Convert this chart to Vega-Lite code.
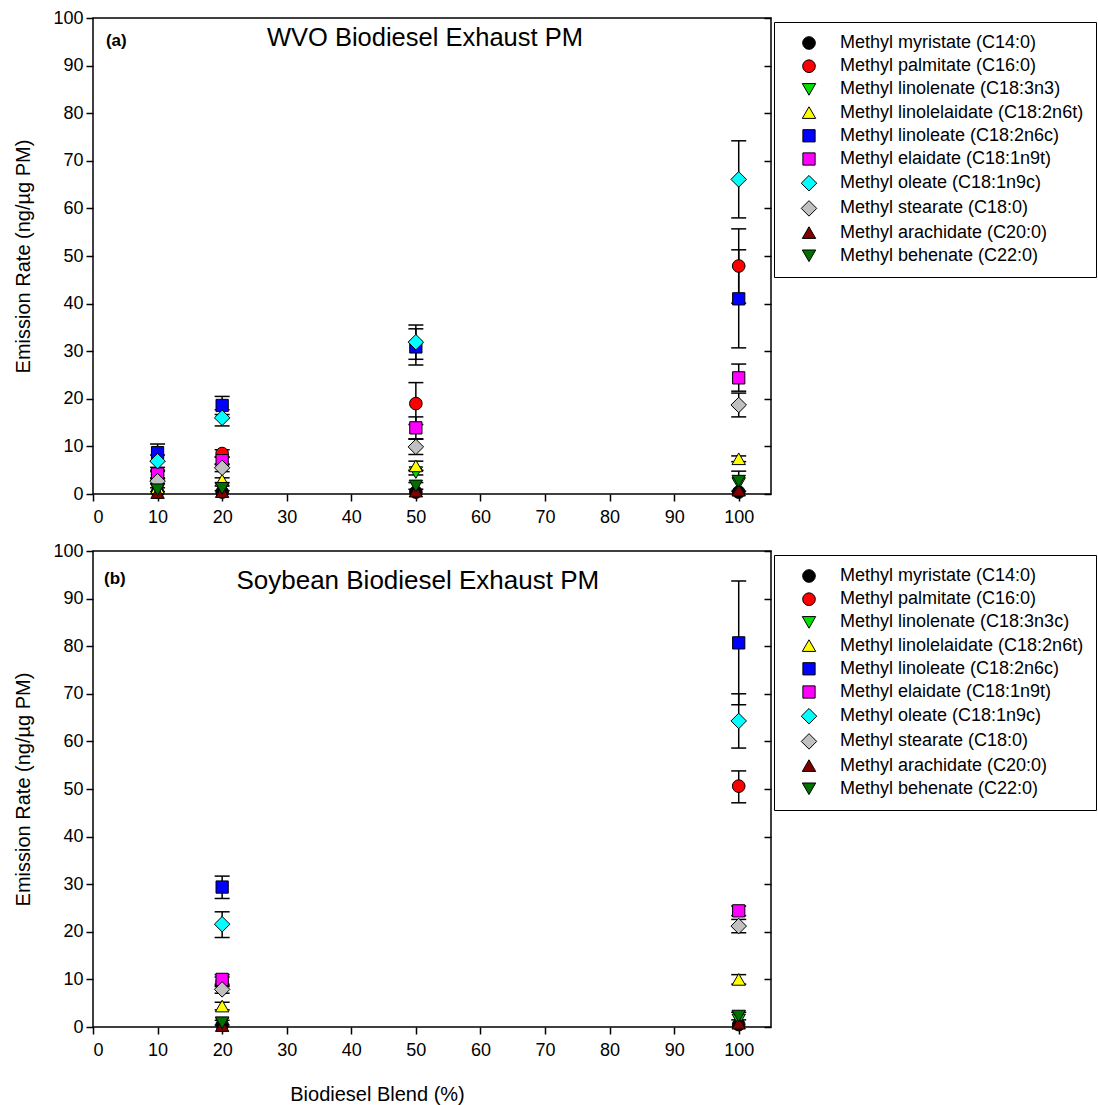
{
  "$schema": "https://vega.github.io/schema/vega-lite/v6.json",
  "padding": {"left": 13, "top": 8, "right": 0, "bottom": 0},
  "spacing": 57,
  "bounds": "flush",
  "config": {
    "font": "Liberation Sans",
    "view": {"stroke": "black", "strokeWidth": 1.5},
    "axis": {"grid": false, "domain": false, "tickColor": "black", "tickWidth": 1.5, "tickSize": 7, "labelColor": "black", "titleColor": "black", "labelFont": "Liberation Sans", "titleFont": "Liberation Sans", "labelFontSize": 18, "titleFontSize": 20, "titleFontWeight": "normal"},
    "legend": {"orient": "none", "legendX": 681, "legendY": 4, "strokeColor": "black", "strokeWidth": 1, "fillColor": "white", "padding": 12, "labelFont": "Liberation Sans", "labelFontSize": 18, "labelColor": "black", "symbolSize": 150, "symbolStrokeColor": "black", "symbolStrokeWidth": 1, "rowPadding": 5.2, "symbolOffset": 14, "labelOffset": 22, "labelLimit": 400, "title": null}
  },
  "resolve": {"scale": {"color": "independent", "shape": "independent", "size": "independent"}, "legend": {"color": "independent", "shape": "independent", "size": "independent"}},
  "datasets": {
    "wvo": [
      {"blend": 10, "compound": "Methyl myristate (C14:0)", "rate": 0.4},
      {"blend": 10, "compound": "Methyl palmitate (C16:0)", "rate": 4.0, "lo": 3.3, "hi": 4.7},
      {"blend": 10, "compound": "Methyl linolenate (C18:3n3)", "rate": 0.8},
      {"blend": 10, "compound": "Methyl linolelaidate (C18:2n6t)", "rate": 1.3},
      {"blend": 10, "compound": "Methyl linoleate (C18:2n6c)", "rate": 8.7, "lo": 6.9, "hi": 10.5},
      {"blend": 10, "compound": "Methyl elaidate (C18:1n9t)", "rate": 4.2, "lo": 3.4, "hi": 5.0},
      {"blend": 10, "compound": "Methyl oleate (C18:1n9c)", "rate": 6.9, "lo": 5.6, "hi": 8.2},
      {"blend": 10, "compound": "Methyl stearate (C18:0)", "rate": 2.7, "lo": 2.2, "hi": 3.2},
      {"blend": 10, "compound": "Methyl arachidate (C20:0)", "rate": 0.3},
      {"blend": 10, "compound": "Methyl behenate (C22:0)", "rate": 0.9, "lo": 0.5, "hi": 1.3},
      {"blend": 20, "compound": "Methyl myristate (C14:0)", "rate": 0.4},
      {"blend": 20, "compound": "Methyl palmitate (C16:0)", "rate": 8.5, "lo": 7.7, "hi": 9.3},
      {"blend": 20, "compound": "Methyl linolenate (C18:3n3)", "rate": 1.0},
      {"blend": 20, "compound": "Methyl linolelaidate (C18:2n6t)", "rate": 2.9, "lo": 2.4, "hi": 3.4},
      {"blend": 20, "compound": "Methyl linoleate (C18:2n6c)", "rate": 18.6, "lo": 16.7, "hi": 20.5},
      {"blend": 20, "compound": "Methyl elaidate (C18:1n9t)", "rate": 7.0, "lo": 6.2, "hi": 7.8},
      {"blend": 20, "compound": "Methyl oleate (C18:1n9c)", "rate": 16.0, "lo": 14.3, "hi": 17.7},
      {"blend": 20, "compound": "Methyl stearate (C18:0)", "rate": 5.5, "lo": 4.7, "hi": 6.3},
      {"blend": 20, "compound": "Methyl arachidate (C20:0)", "rate": 0.5},
      {"blend": 20, "compound": "Methyl behenate (C22:0)", "rate": 1.2, "lo": 0.7, "hi": 1.7},
      {"blend": 50, "compound": "Methyl myristate (C14:0)", "rate": 0.4},
      {"blend": 50, "compound": "Methyl palmitate (C16:0)", "rate": 19.0, "lo": 14.6, "hi": 23.4},
      {"blend": 50, "compound": "Methyl linolenate (C18:3n3)", "rate": 4.5, "lo": 4.0, "hi": 5.0},
      {"blend": 50, "compound": "Methyl linolelaidate (C18:2n6t)", "rate": 5.9, "lo": 4.9, "hi": 6.9},
      {"blend": 50, "compound": "Methyl linoleate (C18:2n6c)", "rate": 30.9, "lo": 27.1, "hi": 34.7},
      {"blend": 50, "compound": "Methyl elaidate (C18:1n9t)", "rate": 13.9, "lo": 11.6, "hi": 16.2},
      {"blend": 50, "compound": "Methyl oleate (C18:1n9c)", "rate": 31.9, "lo": 28.3, "hi": 35.5},
      {"blend": 50, "compound": "Methyl stearate (C18:0)", "rate": 9.9, "lo": 8.3, "hi": 11.5},
      {"blend": 50, "compound": "Methyl arachidate (C20:0)", "rate": 0.6},
      {"blend": 50, "compound": "Methyl behenate (C22:0)", "rate": 1.7, "lo": 1.0, "hi": 2.4},
      {"blend": 100, "compound": "Methyl myristate (C14:0)", "rate": 0.4},
      {"blend": 100, "compound": "Methyl palmitate (C16:0)", "rate": 47.9, "lo": 40.1, "hi": 55.7},
      {"blend": 100, "compound": "Methyl linolenate (C18:3n3)", "rate": 2.2},
      {"blend": 100, "compound": "Methyl linolelaidate (C18:2n6t)", "rate": 7.4, "lo": 6.8, "hi": 8.0},
      {"blend": 100, "compound": "Methyl linoleate (C18:2n6c)", "rate": 41.0, "lo": 30.7, "hi": 51.3},
      {"blend": 100, "compound": "Methyl elaidate (C18:1n9t)", "rate": 24.4, "lo": 21.6, "hi": 27.3},
      {"blend": 100, "compound": "Methyl oleate (C18:1n9c)", "rate": 66.1, "lo": 58.0, "hi": 74.2},
      {"blend": 100, "compound": "Methyl stearate (C18:0)", "rate": 18.7, "lo": 16.2, "hi": 21.2},
      {"blend": 100, "compound": "Methyl arachidate (C20:0)", "rate": 0.8},
      {"blend": 100, "compound": "Methyl behenate (C22:0)", "rate": 2.7, "lo": 0.6, "hi": 4.8}
    ],
    "soy": [
      {"blend": 20, "compound": "Methyl myristate (C14:0)", "rate": 0.4},
      {"blend": 20, "compound": "Methyl palmitate (C16:0)", "rate": 9.5, "lo": 8.5, "hi": 10.5},
      {"blend": 20, "compound": "Methyl linolenate (C18:3n3c)", "rate": 0.8},
      {"blend": 20, "compound": "Methyl linolelaidate (C18:2n6t)", "rate": 4.4, "lo": 3.6, "hi": 5.2},
      {"blend": 20, "compound": "Methyl linoleate (C18:2n6c)", "rate": 29.4, "lo": 27.0, "hi": 31.7},
      {"blend": 20, "compound": "Methyl elaidate (C18:1n9t)", "rate": 10.0, "lo": 9.0, "hi": 11.0},
      {"blend": 20, "compound": "Methyl oleate (C18:1n9c)", "rate": 21.6, "lo": 18.8, "hi": 24.2},
      {"blend": 20, "compound": "Methyl stearate (C18:0)", "rate": 7.9, "lo": 7.1, "hi": 8.7},
      {"blend": 20, "compound": "Methyl arachidate (C20:0)", "rate": 0.3},
      {"blend": 20, "compound": "Methyl behenate (C22:0)", "rate": 0.9, "lo": 0.4, "hi": 1.4},
      {"blend": 100, "compound": "Methyl myristate (C14:0)", "rate": 0.5},
      {"blend": 100, "compound": "Methyl palmitate (C16:0)", "rate": 50.6, "lo": 47.1, "hi": 53.8},
      {"blend": 100, "compound": "Methyl linolenate (C18:3n3c)", "rate": 1.5},
      {"blend": 100, "compound": "Methyl linolelaidate (C18:2n6t)", "rate": 10.0, "lo": 9.0, "hi": 11.0},
      {"blend": 100, "compound": "Methyl linoleate (C18:2n6c)", "rate": 80.7, "lo": 67.7, "hi": 93.7},
      {"blend": 100, "compound": "Methyl elaidate (C18:1n9t)", "rate": 24.4, "lo": 23.4, "hi": 25.4},
      {"blend": 100, "compound": "Methyl oleate (C18:1n9c)", "rate": 64.3, "lo": 58.6, "hi": 70.0},
      {"blend": 100, "compound": "Methyl stearate (C18:0)", "rate": 21.2, "lo": 19.8, "hi": 22.6},
      {"blend": 100, "compound": "Methyl arachidate (C20:0)", "rate": 0.8},
      {"blend": 100, "compound": "Methyl behenate (C22:0)", "rate": 2.3, "lo": 1.5, "hi": 3.1}
    ]
  },
  "vconcat": [
    {
      "width": 678,
      "height": 476,
      "resolve": {"axis": {"y": "independent"}},
      "layer": [
        {"data": {"name": "wvo"}, "transform": [{"filter": "isValid(datum.lo)"}], "mark": {"type": "rule", "color": "black", "strokeWidth": 1.5}, "encoding": {"x": {"field": "blend", "type": "quantitative", "scale": {"domain": [0, 105], "nice": false}, "axis": {"values": [0, 10, 20, 30, 40, 50, 60, 70, 80, 90, 100], "title": null, "labelPadding": 7}}, "y": {"field": "lo", "type": "quantitative", "scale": {"domain": [0, 100], "nice": false}, "axis": null}, "y2": {"field": "hi"}}},
        {"data": {"name": "wvo"}, "transform": [{"filter": "isValid(datum.lo)"}], "mark": {"type": "tick", "orient": "horizontal", "color": "black", "size": 15, "thickness": 1.5, "opacity": 1}, "encoding": {"x": {"field": "blend", "type": "quantitative"}, "y": {"field": "lo", "type": "quantitative", "scale": {"domain": [0, 100], "nice": false}, "axis": null}}},
        {"data": {"name": "wvo"}, "transform": [{"filter": "isValid(datum.hi)"}], "mark": {"type": "tick", "orient": "horizontal", "color": "black", "size": 15, "thickness": 1.5, "opacity": 1}, "encoding": {"x": {"field": "blend", "type": "quantitative"}, "y": {"field": "hi", "type": "quantitative", "scale": {"domain": [0, 100], "nice": false}, "axis": null}}},
        {
          "data": {"name": "wvo"},
          "mark": {"type": "point", "filled": true, "opacity": 1, "stroke": "black", "strokeWidth": 1},
          "encoding": {
            "x": {"field": "blend", "type": "quantitative"},
            "y": {"field": "rate", "type": "quantitative", "scale": {"domain": [0, 100], "nice": false}, "axis": {"values": [0, 10, 20, 30, 40, 50, 60, 70, 80, 90, 100], "title": "Emission Rate (ng/µg PM)", "labelPadding": 3, "titlePadding": 19}},
            "color": {"field": "compound", "type": "nominal", "scale": {"domain": ["Methyl myristate (C14:0)", "Methyl palmitate (C16:0)", "Methyl linolenate (C18:3n3)", "Methyl linolelaidate (C18:2n6t)", "Methyl linoleate (C18:2n6c)", "Methyl elaidate (C18:1n9t)", "Methyl oleate (C18:1n9c)", "Methyl stearate (C18:0)", "Methyl arachidate (C20:0)", "Methyl behenate (C22:0)"], "range": ["#000000", "#FF0000", "#00E000", "#FFFF00", "#0000FF", "#FF00FF", "#00FFFF", "#C0C0C0", "#800000", "#007000"]}},
            "shape": {"field": "compound", "type": "nominal", "scale": {"domain": ["Methyl myristate (C14:0)", "Methyl palmitate (C16:0)", "Methyl linolenate (C18:3n3)", "Methyl linolelaidate (C18:2n6t)", "Methyl linoleate (C18:2n6c)", "Methyl elaidate (C18:1n9t)", "Methyl oleate (C18:1n9c)", "Methyl stearate (C18:0)", "Methyl arachidate (C20:0)", "Methyl behenate (C22:0)"], "range": ["circle", "circle", "triangle-down", "triangle-up", "square", "square", "diamond", "diamond", "triangle-up", "triangle-down"]}},
            "size": {"field": "compound", "type": "nominal", "scale": {"type": "ordinal", "domain": ["Methyl myristate (C14:0)", "Methyl palmitate (C16:0)", "Methyl linolenate (C18:3n3)", "Methyl linolelaidate (C18:2n6t)", "Methyl linoleate (C18:2n6c)", "Methyl elaidate (C18:1n9t)", "Methyl oleate (C18:1n9c)", "Methyl stearate (C18:0)", "Methyl arachidate (C20:0)", "Methyl behenate (C22:0)"], "range": [160, 160, 180, 180, 150, 150, 240, 240, 180, 180]}}
          }
        },
        {"data": {"name": "wvo"}, "mark": {"type": "point", "opacity": 0}, "encoding": {"x": {"field": "blend", "type": "quantitative"}, "y": {"field": "rate", "type": "quantitative", "scale": {"domain": [0, 100], "nice": false}, "axis": {"orient": "right", "values": [0, 10, 20, 30, 40, 50, 60, 70, 80, 90, 100], "labels": false, "tickSize": -7, "title": null}}}},
        {"data": {"values": [{"label": "(a)"}]}, "mark": {"type": "text", "fontWeight": "bold", "fontSize": 17, "align": "left", "baseline": "middle", "color": "black"}, "encoding": {"text": {"field": "label"}, "x": {"datum": 2}, "y": {"datum": 95.2, "axis": null}}},
        {"data": {"values": [{"label": "WVO Biodiesel Exhaust PM"}]}, "mark": {"type": "text", "fontSize": 25.5, "align": "center", "baseline": "middle", "color": "black"}, "encoding": {"text": {"field": "label"}, "x": {"datum": 51.4}, "y": {"datum": 95.7, "axis": null}}}
      ]
    },
    {
      "width": 678,
      "height": 476,
      "resolve": {"axis": {"y": "independent"}},
      "layer": [
        {"data": {"name": "soy"}, "transform": [{"filter": "isValid(datum.lo)"}], "mark": {"type": "rule", "color": "black", "strokeWidth": 1.5}, "encoding": {"x": {"field": "blend", "type": "quantitative", "scale": {"domain": [0, 105], "nice": false}, "axis": {"values": [0, 10, 20, 30, 40, 50, 60, 70, 80, 90, 100], "title": "Biodiesel Blend (%)", "labelPadding": 7, "titlePadding": 25, "titleX": 284}}, "y": {"field": "lo", "type": "quantitative", "scale": {"domain": [0, 100], "nice": false}, "axis": null}, "y2": {"field": "hi"}}},
        {"data": {"name": "soy"}, "transform": [{"filter": "isValid(datum.lo)"}], "mark": {"type": "tick", "orient": "horizontal", "color": "black", "size": 15, "thickness": 1.5, "opacity": 1}, "encoding": {"x": {"field": "blend", "type": "quantitative"}, "y": {"field": "lo", "type": "quantitative", "scale": {"domain": [0, 100], "nice": false}, "axis": null}}},
        {"data": {"name": "soy"}, "transform": [{"filter": "isValid(datum.hi)"}], "mark": {"type": "tick", "orient": "horizontal", "color": "black", "size": 15, "thickness": 1.5, "opacity": 1}, "encoding": {"x": {"field": "blend", "type": "quantitative"}, "y": {"field": "hi", "type": "quantitative", "scale": {"domain": [0, 100], "nice": false}, "axis": null}}},
        {
          "data": {"name": "soy"},
          "mark": {"type": "point", "filled": true, "opacity": 1, "stroke": "black", "strokeWidth": 1},
          "encoding": {
            "x": {"field": "blend", "type": "quantitative"},
            "y": {"field": "rate", "type": "quantitative", "scale": {"domain": [0, 100], "nice": false}, "axis": {"values": [0, 10, 20, 30, 40, 50, 60, 70, 80, 90, 100], "title": "Emission Rate (ng/µg PM)", "labelPadding": 3, "titlePadding": 19}},
            "color": {"field": "compound", "type": "nominal", "scale": {"domain": ["Methyl myristate (C14:0)", "Methyl palmitate (C16:0)", "Methyl linolenate (C18:3n3c)", "Methyl linolelaidate (C18:2n6t)", "Methyl linoleate (C18:2n6c)", "Methyl elaidate (C18:1n9t)", "Methyl oleate (C18:1n9c)", "Methyl stearate (C18:0)", "Methyl arachidate (C20:0)", "Methyl behenate (C22:0)"], "range": ["#000000", "#FF0000", "#00E000", "#FFFF00", "#0000FF", "#FF00FF", "#00FFFF", "#C0C0C0", "#800000", "#007000"]}},
            "shape": {"field": "compound", "type": "nominal", "scale": {"domain": ["Methyl myristate (C14:0)", "Methyl palmitate (C16:0)", "Methyl linolenate (C18:3n3c)", "Methyl linolelaidate (C18:2n6t)", "Methyl linoleate (C18:2n6c)", "Methyl elaidate (C18:1n9t)", "Methyl oleate (C18:1n9c)", "Methyl stearate (C18:0)", "Methyl arachidate (C20:0)", "Methyl behenate (C22:0)"], "range": ["circle", "circle", "triangle-down", "triangle-up", "square", "square", "diamond", "diamond", "triangle-up", "triangle-down"]}},
            "size": {"field": "compound", "type": "nominal", "scale": {"type": "ordinal", "domain": ["Methyl myristate (C14:0)", "Methyl palmitate (C16:0)", "Methyl linolenate (C18:3n3c)", "Methyl linolelaidate (C18:2n6t)", "Methyl linoleate (C18:2n6c)", "Methyl elaidate (C18:1n9t)", "Methyl oleate (C18:1n9c)", "Methyl stearate (C18:0)", "Methyl arachidate (C20:0)", "Methyl behenate (C22:0)"], "range": [160, 160, 180, 180, 150, 150, 240, 240, 180, 180]}}
          }
        },
        {"data": {"name": "soy"}, "mark": {"type": "point", "opacity": 0}, "encoding": {"x": {"field": "blend", "type": "quantitative"}, "y": {"field": "rate", "type": "quantitative", "scale": {"domain": [0, 100], "nice": false}, "axis": {"orient": "right", "values": [0, 10, 20, 30, 40, 50, 60, 70, 80, 90, 100], "labels": false, "tickSize": -7, "title": null}}}},
        {"data": {"values": [{"label": "(b)"}]}, "mark": {"type": "text", "fontWeight": "bold", "fontSize": 17, "align": "left", "baseline": "middle", "color": "black"}, "encoding": {"text": {"field": "label"}, "x": {"datum": 1.7}, "y": {"datum": 94.1, "axis": null}}},
        {"data": {"values": [{"label": "Soybean Biodiesel Exhaust PM"}]}, "mark": {"type": "text", "fontSize": 26, "align": "center", "baseline": "middle", "color": "black"}, "encoding": {"text": {"field": "label"}, "x": {"datum": 50.3}, "y": {"datum": 93.7, "axis": null}}}
      ]
    }
  ]
}
